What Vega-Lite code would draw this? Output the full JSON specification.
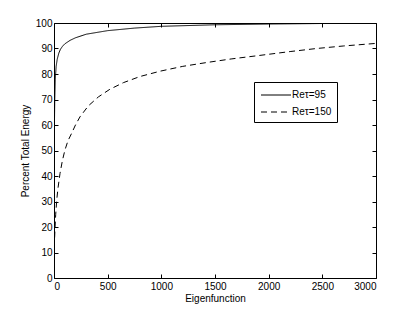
{
  "$schema": "https://vega.github.io/schema/vega-lite/v6.json",
  "width": 322,
  "height": 255,
  "autosize": {"type": "none"},
  "padding": {"left": 54, "top": 23, "right": 39, "bottom": 34},
  "background": "white",
  "config": {
    "font": "Liberation Sans",
    "view": {"stroke": null},
    "axis": {"grid": false, "domainColor": "black", "tickColor": "black", "labelColor": "black", "titleColor": "black", "labelFontSize": 10, "titleFontSize": 10, "titleFontWeight": "normal", "labelFont": "Liberation Sans", "titleFont": "Liberation Sans", "tickSize": -4, "domainWidth": 1, "tickWidth": 1}
  },
  "data": {"values": [
    {"n": 1, "e": 30, "s": "Reτ=95"},
    {"n": 2, "e": 45, "s": "Reτ=95"},
    {"n": 4, "e": 60, "s": "Reτ=95"},
    {"n": 7, "e": 70, "s": "Reτ=95"},
    {"n": 12, "e": 78, "s": "Reτ=95"},
    {"n": 20, "e": 83, "s": "Reτ=95"},
    {"n": 30, "e": 85.8, "s": "Reτ=95"},
    {"n": 45, "e": 88.2, "s": "Reτ=95"},
    {"n": 60, "e": 89.7, "s": "Reτ=95"},
    {"n": 80, "e": 90.9, "s": "Reτ=95"},
    {"n": 100, "e": 91.8, "s": "Reτ=95"},
    {"n": 150, "e": 93.2, "s": "Reτ=95"},
    {"n": 200, "e": 94.2, "s": "Reτ=95"},
    {"n": 300, "e": 95.6, "s": "Reτ=95"},
    {"n": 500, "e": 97, "s": "Reτ=95"},
    {"n": 750, "e": 98, "s": "Reτ=95"},
    {"n": 1000, "e": 98.7, "s": "Reτ=95"},
    {"n": 1500, "e": 99.3, "s": "Reτ=95"},
    {"n": 2000, "e": 99.6, "s": "Reτ=95"},
    {"n": 2500, "e": 99.8, "s": "Reτ=95"},
    {"n": 3000, "e": 99.9, "s": "Reτ=95"},
    {"n": 1, "e": 8, "s": "Reτ=150"},
    {"n": 3, "e": 12, "s": "Reτ=150"},
    {"n": 6, "e": 16, "s": "Reτ=150"},
    {"n": 10, "e": 20, "s": "Reτ=150"},
    {"n": 16, "e": 25, "s": "Reτ=150"},
    {"n": 25, "e": 30.4, "s": "Reτ=150"},
    {"n": 38, "e": 35.5, "s": "Reτ=150"},
    {"n": 56, "e": 41, "s": "Reτ=150"},
    {"n": 78, "e": 46, "s": "Reτ=150"},
    {"n": 102, "e": 50.2, "s": "Reτ=150"},
    {"n": 130, "e": 53.8, "s": "Reτ=150"},
    {"n": 165, "e": 56.8, "s": "Reτ=150"},
    {"n": 200, "e": 60, "s": "Reτ=150"},
    {"n": 242, "e": 63.2, "s": "Reτ=150"},
    {"n": 320, "e": 67.5, "s": "Reτ=150"},
    {"n": 413, "e": 71, "s": "Reτ=150"},
    {"n": 520, "e": 74, "s": "Reτ=150"},
    {"n": 646, "e": 76.6, "s": "Reτ=150"},
    {"n": 800, "e": 79, "s": "Reτ=150"},
    {"n": 988, "e": 81.1, "s": "Reτ=150"},
    {"n": 1200, "e": 83, "s": "Reτ=150"},
    {"n": 1422, "e": 84.5, "s": "Reτ=150"},
    {"n": 1650, "e": 85.9, "s": "Reτ=150"},
    {"n": 1919, "e": 87.3, "s": "Reτ=150"},
    {"n": 2200, "e": 88.8, "s": "Reτ=150"},
    {"n": 2447, "e": 90.0, "s": "Reτ=150"},
    {"n": 2700, "e": 91.0, "s": "Reτ=150"},
    {"n": 3000, "e": 92.0, "s": "Reτ=150"}
  ]},
  "layer": [
    {
      "mark": {"type": "line", "color": "black", "strokeWidth": 1, "clip": true},
      "encoding": {
        "x": {"field": "n", "type": "quantitative", "scale": {"domain": [0, 3000], "nice": false}, "axis": {"title": "Eigenfunction", "format": "d", "values": [0, 500, 1000, 1500, 2000, 2500, 3000], "labelPadding": 7, "titlePadding": 2}},
        "y": {"field": "e", "type": "quantitative", "scale": {"domain": [0, 100], "nice": false}, "axis": {"title": "Percent Total Energy", "values": [0, 10, 20, 30, 40, 50, 60, 70, 80, 90, 100], "labelPadding": 6, "titlePadding": 5}},
        "strokeDash": {"field": "s", "type": "nominal", "scale": {"domain": ["Reτ=95", "Reτ=150"], "range": [[1, 0], [6, 4]]}, "legend": {"title": null, "orient": "none", "legendX": 200, "legendY": 59, "strokeColor": "black", "fillColor": "white", "padding": 5, "symbolType": "M-2,0H2", "symbolSize": 225, "symbolOffset": 9, "symbolStrokeColor": "black", "symbolFillColor": "transparent", "symbolStrokeWidth": 1, "labelFontSize": 10, "labelColor": "black", "rowPadding": 4, "labelOffset": 8}},
        "detail": {"field": "s"}
      }
    },
    {
      "mark": {"type": "line", "opacity": 0},
      "encoding": {
        "x": {"field": "n", "type": "quantitative", "axis": {"orient": "top", "title": null, "labels": false, "values": [0, 500, 1000, 1500, 2000, 2500, 3000]}},
        "y": {"field": "e", "type": "quantitative", "axis": {"orient": "right", "title": null, "labels": false, "values": [0, 10, 20, 30, 40, 50, 60, 70, 80, 90, 100]}}
      }
    }
  ],
  "resolve": {"axis": {"x": "independent", "y": "independent"}}
}
